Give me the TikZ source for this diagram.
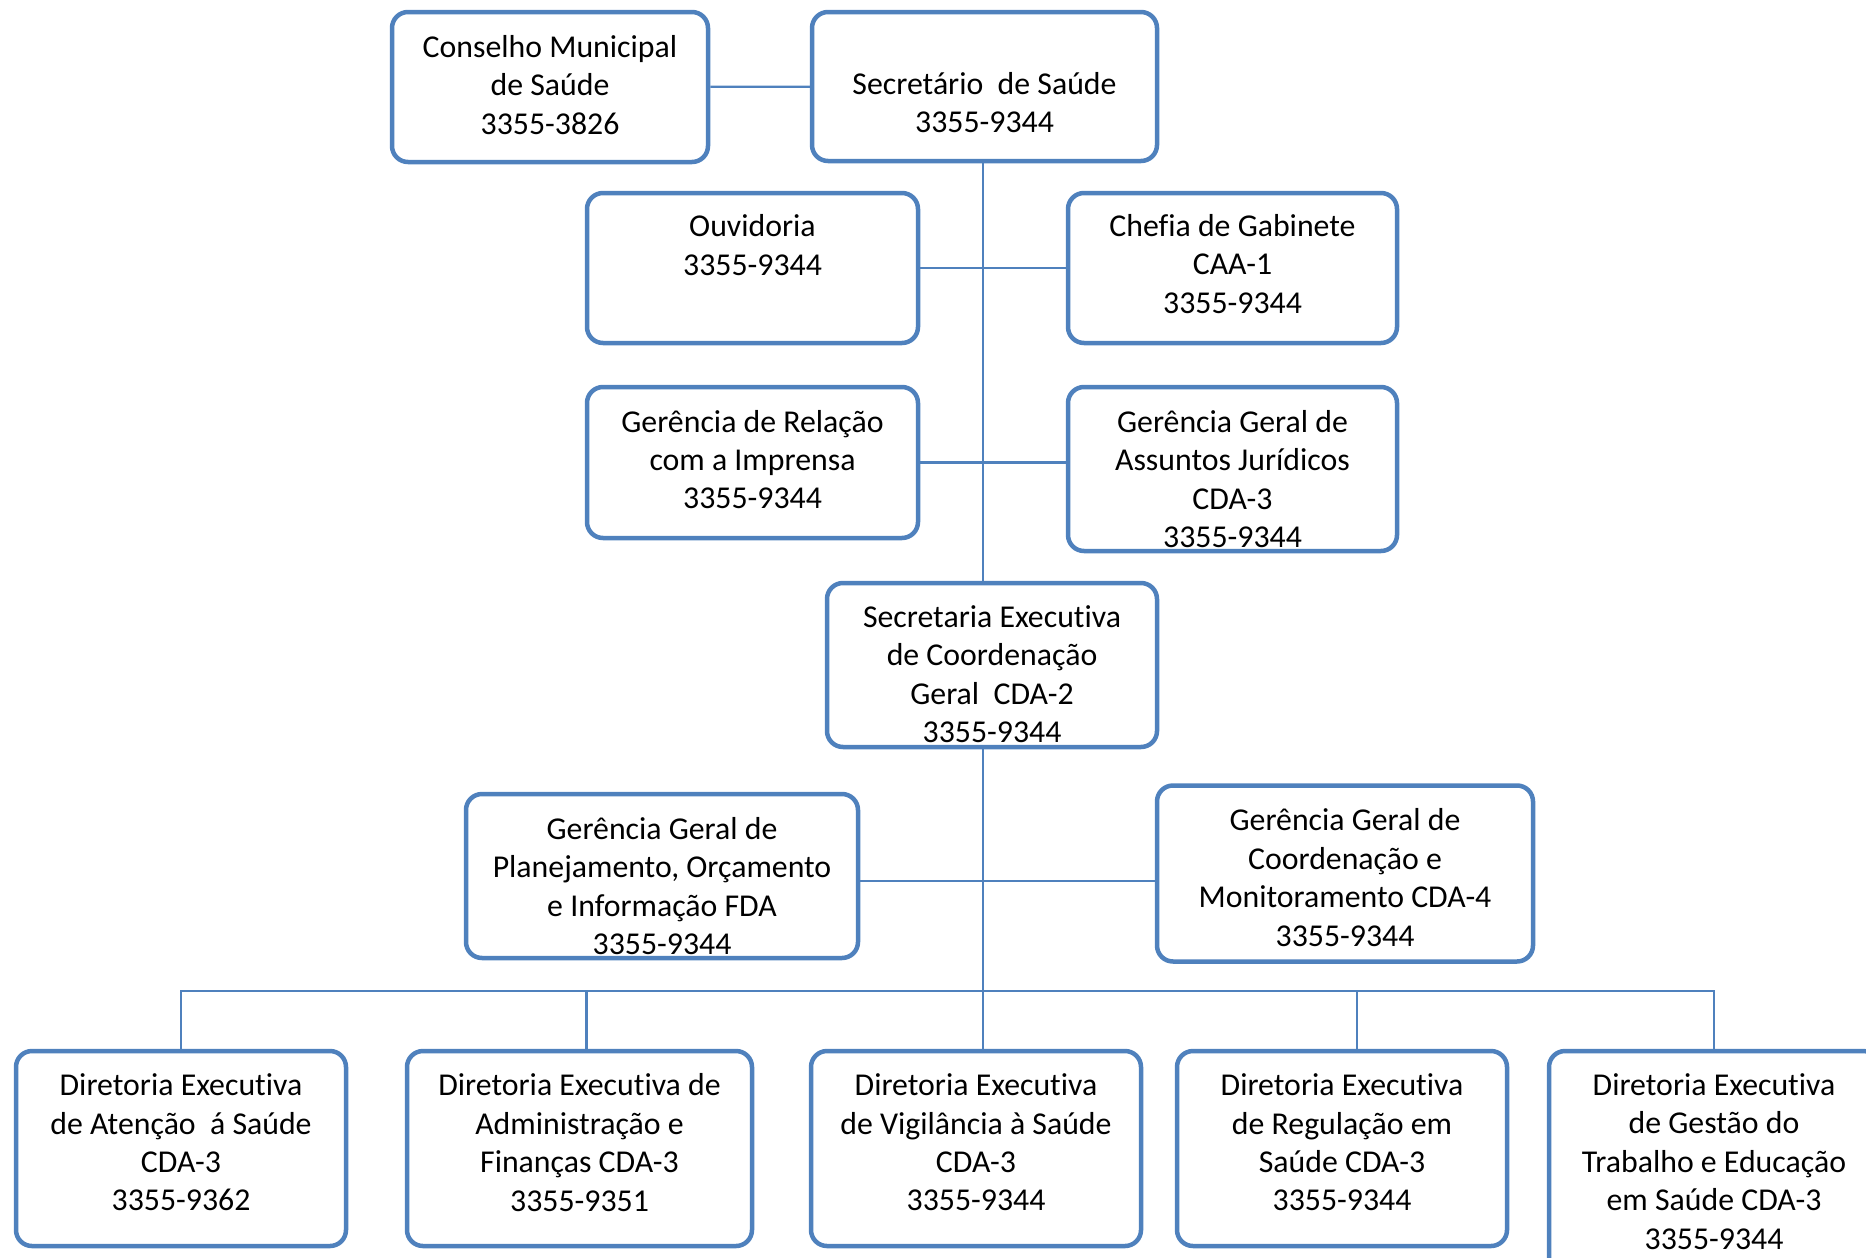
\documentclass[tikz,border=0pt]{standalone}
\usepackage{fontspec}
\setmainfont{Carlito}[Ligatures={NoCommon,NoRare}]
\definecolor{ob}{HTML}{4F81BD}

\begin{document}
\begin{tikzpicture}[x=1pt, y=-1pt,
  b/.style={draw=ob, line width=4.5pt, rounded corners=16pt, fill=white, inner sep=0pt},
  t/.style={align=center, inner sep=0pt, font=\fontsize{31.8}{38.4}\selectfont},
  l/.style={draw=ob, line width=2.2pt}]
	\useasboundingbox (0,0) rectangle (1866,1258);
	\clip (0,0) rectangle (1866,1258);

	\node[b, minimum width=316pt, minimum height=150pt, label={[t, yshift=2pt]center:{Conselho Municipal\\de Saúde\\3355-3826}}] (cms) at (550,87) {};
	\node[b, minimum width=345pt, minimum height=149pt, label={[t, yshift=-16pt]center:{Secretário~ de Saúde\\3355-9344}}] (sec) at (984.5,86.5) {};
	\node[b, minimum width=331pt, minimum height=150pt, label={[t, yshift=23pt]center:{Ouvidoria\\3355-9344}}] (ouv) at (752.5,268) {};
	\node[b, minimum width=329pt, minimum height=150pt, label={[t, yshift=4pt]center:{Chefia de Gabinete\\CAA-1\\3355-9344}}] (chf) at (1232.5,268) {};
	\node[b, minimum width=331pt, minimum height=151pt, label={[t, yshift=3pt]center:{Gerência de Relação\\com a Imprensa\\3355-9344}}] (rel) at (752.5,462.5) {};
	\node[b, minimum width=329pt, minimum height=164pt, label={[t, yshift=-10pt]center:{Gerência Geral de\\Assuntos Jurídicos\\CDA-3\\3355-9344}}] (jur) at (1232.5,469) {};
	\node[b, minimum width=330pt, minimum height=164pt, label={[t, yshift=-9pt]center:{Secretaria Executiva\\de Coordenação\\Geral~ CDA-2\\3355-9344}}] (sx) at (992,665) {};
	\node[b, minimum width=392pt, minimum height=164pt, label={[t, yshift=-10pt]center:{Gerência Geral de\\Planejamento, Orçamento\\e Informação FDA\\3355-9344}}] (plan) at (662,876) {};
	\node[b, minimum width=376pt, minimum height=176pt, label={[t, yshift=-4pt]center:{Gerência Geral de\\Coordenação e\\Monitoramento CDA-4\\3355-9344}}] (crd) at (1345,873.5) {};

	% diretorias
	\node[b, minimum width=330pt, minimum height=195pt, label={[t, yshift=6pt]center:{Diretoria Executiva\\de Atenção~ á Saúde\\CDA-3\\3355-9362}}] (d1) at (181,1148.5) {};
	\node[b, minimum width=345pt, minimum height=195pt, label={[t, yshift=6pt]center:{Diretoria Executiva de\\Administração e\\Finanças CDA-3\\3355-9351}}] (d2) at (579.5,1148.5) {};
	\node[b, minimum width=330pt, minimum height=195pt, label={[t, yshift=6pt]center:{Diretoria Executiva\\de Vigilância à Saúde\\CDA-3\\3355-9344}}] (d3) at (976,1148.5) {};
	\node[b, minimum width=330pt, minimum height=195pt, label={[t, yshift=6pt]center:{Diretoria Executiva\\de Regulação em\\Saúde CDA-3\\3355-9344}}] (d4) at (1342,1148.5) {};
	\node[b, minimum width=330pt, minimum height=221pt, label={[t]center:{Diretoria Executiva\\de Gestão do\\Trabalho e Educação\\em Saúde CDA-3\\3355-9344}}] (d5) at (1714,1161.5) {};

	\coordinate (bus) at (983,991);

	\path[l] (cms) edge (sec);
	\path[l] (ouv) edge (chf);
	\draw[l] (rel.east) -- (rel.east -| jur.west);
	\draw[l] ([yshift=-5pt]plan.east) -- ([yshift=-5pt]plan.east -| crd.west);
	\draw[l] (bus |- sec.south) -- (bus |- sx.north);
	\draw[l] (bus |- sx.south) -- (bus |- d3.north);
	\draw[l] (d1.north) |- (bus -| d5.north) -- (d5.north);
	\draw[l] ([xshift=7pt]d2.north) -- ([xshift=7pt]d2.north |- bus);
	\draw[l] ([xshift=15pt]d4.north) -- ([xshift=15pt]d4.north |- bus);
\end{tikzpicture}
\end{document}
